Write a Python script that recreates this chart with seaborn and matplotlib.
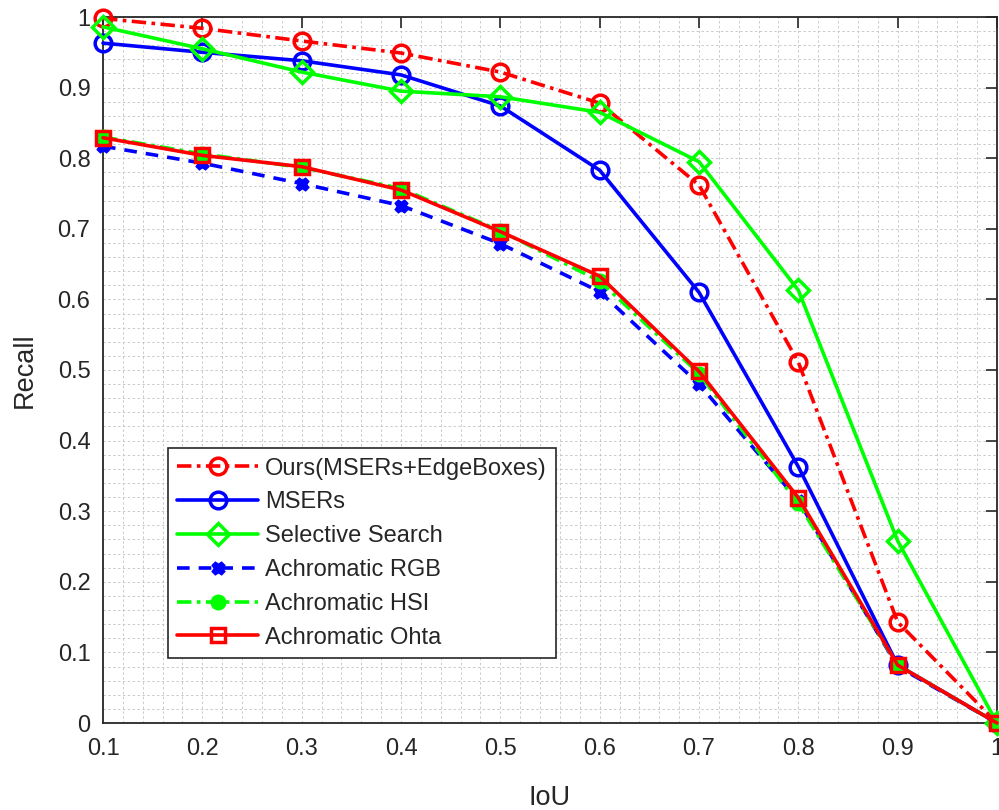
import matplotlib
matplotlib.use("Agg")
import matplotlib.pyplot as plt
import seaborn as sns
import pandas as pd
import numpy as np
from matplotlib.ticker import MultipleLocator, FuncFormatter

iou = [0.1, 0.2, 0.3, 0.4, 0.5, 0.6, 0.7, 0.8, 0.9, 1.0]
ours = [0.998, 0.984, 0.966, 0.949, 0.922, 0.878, 0.762, 0.511, 0.143, 0.0]
msers = [0.963, 0.950, 0.938, 0.918, 0.874, 0.783, 0.610, 0.363, 0.082, 0.0]
selective = [0.986, 0.955, 0.922, 0.895, 0.887, 0.865, 0.795, 0.613, 0.258, 0.0]
ach_rgb = [0.817, 0.793, 0.764, 0.733, 0.679, 0.611, 0.480, 0.315, 0.080, 0.0]
ach_hsi = [0.830, 0.806, 0.787, 0.757, 0.697, 0.626, 0.495, 0.311, 0.082, 0.0]
ach_ohta = [0.829, 0.804, 0.788, 0.755, 0.696, 0.633, 0.498, 0.319, 0.082, 0.0]

labels = ["Ours(MSERs+EdgeBoxes)", "MSERs", "Selective Search",
          "Achromatic RGB", "Achromatic HSI", "Achromatic Ohta"]
series = [ours, msers, selective, ach_rgb, ach_hsi, ach_ohta]

styles = [
    dict(color=(1, 0, 0), linestyle=(0, (4, 1.5, 1, 1.5)), marker='o', mfc='none'),
    dict(color=(0, 0, 1), linestyle='-', marker='o', mfc='none'),
    dict(color=(0, 1, 0), linestyle='-', marker='D', mfc='none'),
    dict(color=(0, 0, 1), linestyle=(0, (3.5, 2.5)), marker='X', mfc=(0, 0, 1)),
    dict(color=(0, 1, 0), linestyle=(0, (4, 1.5, 1, 1.5)), marker='o', mfc=(0, 1, 0)),
    dict(color=(1, 0, 0), linestyle='-', marker='s', mfc='none'),
]
msizes = [12, 12, 11, 7.5, 9, 10]

sns.set_style("white")
plt.rcParams['font.family'] = ['Liberation Sans', 'DejaVu Sans']

fig = plt.figure(figsize=(9.99, 8.10), dpi=100)
ax = fig.add_axes([103/999, 87/810, 894/999, 706/810])

for lab, vals, st, ms in zip(labels, series, styles, msizes):
    df = pd.DataFrame({"IoU": iou, "Recall": vals})
    sns.lineplot(data=df, x="IoU", y="Recall", ax=ax, label=lab,
                 color=st['color'], linestyle=st['linestyle'], marker=st['marker'],
                 markersize=ms, markerfacecolor=st['mfc'], markeredgecolor=st['color'],
                 markeredgewidth=2.5, linewidth=2.6, clip_on=False, zorder=5)

ax.set_xlim(0.1, 1.0)
ax.set_ylim(0, 1.0)
ax.xaxis.set_major_locator(MultipleLocator(0.1))
ax.yaxis.set_major_locator(MultipleLocator(0.1))
ax.xaxis.set_minor_locator(MultipleLocator(0.02))
ax.yaxis.set_minor_locator(MultipleLocator(0.02))
fmt = FuncFormatter(lambda v, p: "%g" % round(v, 2))
ax.xaxis.set_major_formatter(fmt)
ax.yaxis.set_major_formatter(fmt)

ax.grid(True, which='both', color='#c4c4c4', linestyle=(0, (2.5, 2.5)), linewidth=0.7, alpha=0.9)
ax.set_axisbelow(True)
ax.tick_params(which='major', direction='in', length=8, width=1.2, top=True, right=True,
               labelsize=17, colors='#262626')
ax.tick_params(axis='x', which='major', pad=11)
ax.tick_params(axis='y', which='major', pad=9)
ax.tick_params(which='minor', length=0, top=True, right=True)
for s in ax.spines.values():
    s.set_color('#262626')
    s.set_linewidth(1.3)
    s.set_visible(True)

ax.set_xlabel("IoU", fontsize=19.5, color='#262626', labelpad=18)
ax.set_ylabel("Recall", fontsize=19.5, color='#262626', labelpad=14)

leg = ax.legend(loc='lower left', bbox_to_anchor=(0.0727, 0.092), borderaxespad=0,
                fontsize=17, handlelength=3.4, labelspacing=0.5, handletextpad=0.3,
                borderpad=0.4, frameon=True, fancybox=False, edgecolor='#262626',
                framealpha=1)
leg.get_frame().set_linewidth(1.2)
for t in leg.get_texts():
    t.set_color('#262626')

fig.savefig("out.png", dpi=100)
